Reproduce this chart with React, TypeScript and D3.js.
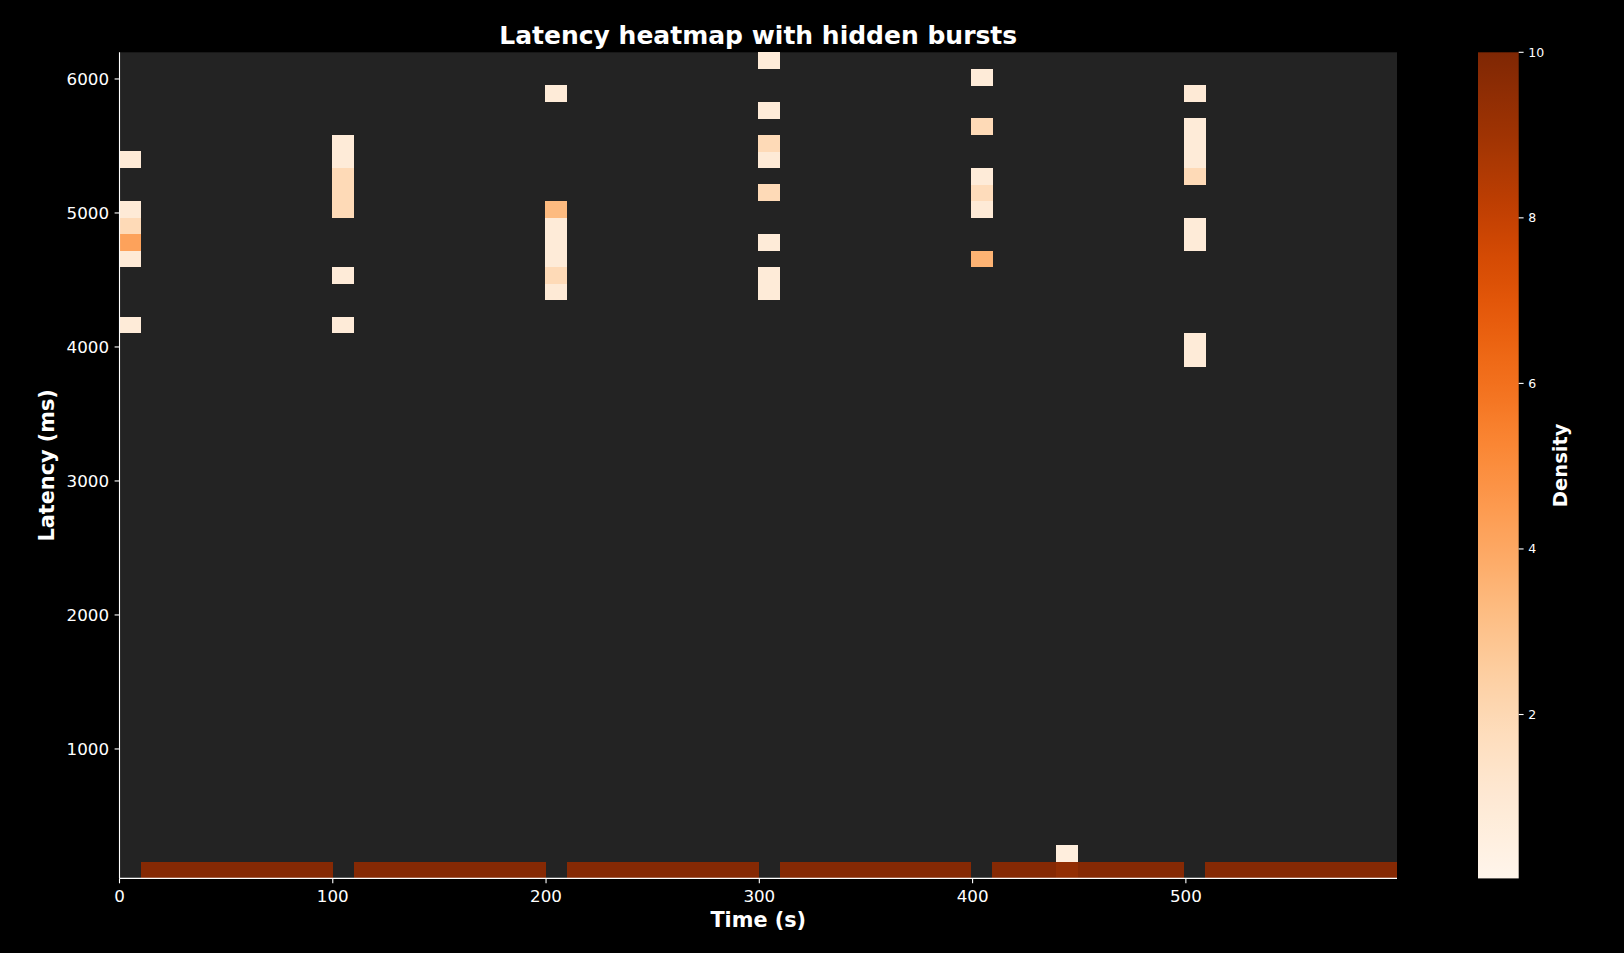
import React from "react";
import * as d3 from "d3";

// ---- data ----
const timeDomain = [0, 599];
const latencyDomain = [34, 6199];
const nTimeBins = 60;
const nLatencyBins = 50;

// bottom latency row density per 10 s time bin (0 = empty)
const baselineDensity = [
  0, 9.8, 9.8, 9.8, 9.8, 9.8, 9.8, 9.8, 9.8, 9.8,
  0, 9.8, 9.8, 9.8, 9.8, 9.8, 9.8, 9.8, 9.8, 9.8,
  0, 9.8, 9.8, 9.8, 9.8, 9.8, 9.8, 9.8, 9.8, 9.8,
  0, 9.8, 9.8, 9.8, 9.8, 9.8, 9.8, 9.8, 9.8, 9.8,
  0, 9.8, 9.8, 9.8, 9.4, 9.8, 9.8, 9.8, 9.8, 9.8,
  0, 9.8, 9.8, 9.8, 9.8, 9.8, 9.8, 9.8, 9.8, 9.8,
];

// burst columns (time bin index), their latency rows and densities
const burstBins = [0, 10, 20, 30, 40, 50, 44];
const burstRows = [
  [33, 37, 38, 39, 40, 43],
  [33, 36, 40, 41, 42, 43, 44],
  [35, 36, 37, 38, 39, 40, 47],
  [35, 36, 38, 41, 43, 44, 46, 49],
  [37, 40, 41, 42, 45, 48],
  [31, 32, 38, 39, 42, 43, 44, 45, 47],
  [1],
];
const burstDensity = [
  [0.8, 0.9, 4.2, 1.9, 0.9, 0.9],
  [0.8, 0.8, 1.9, 1.9, 1.9, 0.8, 0.8],
  [0.9, 1.9, 0.8, 0.8, 0.8, 3.3, 0.8],
  [0.8, 0.8, 0.8, 1.9, 0.9, 1.9, 0.8, 0.8],
  [3.6, 0.9, 1.8, 0.8, 1.9, 0.8],
  [0.8, 0.8, 0.8, 0.8, 1.9, 0.8, 0.8, 0.8, 0.9],
  [0.6],
];

const xTicks = [0, 100, 200, 300, 400, 500];
const yTicks = [1000, 2000, 3000, 4000, 5000, 6000];
const cbTicks = [2, 4, 6, 8, 10];
const colorDomain = [0.02, 10];

// ---- layout ----
const W = 1624;
const H = 953;
const plot = { left: 119.5, right: 1397, top: 52.3, bottom: 878.4 };
const cb = { left: 1478, right: 1518.7, top: 52.3, bottom: 878.4 };
const FONT = "'DejaVu Sans', sans-serif";

export default function App() {
  const x = d3.scaleLinear().domain(timeDomain).range([plot.left, plot.right]);
  const y = d3.scaleLinear().domain(latencyDomain).range([plot.bottom, plot.top]);
  const color = d3.scaleSequential(d3.interpolateOranges).domain(colorDomain).clamp(true);
  const cbY = d3.scaleLinear().domain(colorDomain).range([cb.bottom, cb.top]);

  const tStep = (timeDomain[1] - timeDomain[0]) / nTimeBins;
  const lStep = (latencyDomain[1] - latencyDomain[0]) / nLatencyBins;

  type Cell = { col: number; row: number; v: number };
  const cells: Cell[] = [];
  baselineDensity.forEach((v, col) => {
    if (v > 0) cells.push({ col, row: 0, v });
  });
  burstBins.forEach((col, k) => {
    burstRows[k].forEach((row, m) => cells.push({ col, row, v: burstDensity[k][m] }));
  });

  const cellRect = (c: Cell) => {
    const x0 = x(timeDomain[0] + c.col * tStep);
    const x1 = x(timeDomain[0] + (c.col + 1) * tStep);
    const y0 = y(latencyDomain[0] + (c.row + 1) * lStep);
    const y1 = y(latencyDomain[0] + c.row * lStep);
    return { x: x0, y: y0, w: x1 - x0, h: y1 - y0 };
  };

  const gradStops = d3.range(0, 41).map((i) => {
    const t = i / 40;
    const v = colorDomain[0] + t * (colorDomain[1] - colorDomain[0]);
    return { offset: `${t * 100}%`, c: color(v) };
  });

  return (
    <svg width={W} height={H} style={{ display: "block", position: "absolute", left: 0, top: 0 }} fontFamily={FONT}>
      <rect x={0} y={0} width={W} height={H} fill="#000" />
      <defs>
        <linearGradient id="cbgrad" x1="0" y1="1" x2="0" y2="0">
          {gradStops.map((s, i) => (
            <stop key={i} offset={s.offset} stopColor={s.c} />
          ))}
        </linearGradient>
      </defs>

      {/* plot background */}
      <rect x={plot.left} y={plot.top} width={plot.right - plot.left} height={plot.bottom - plot.top} fill="#232323" />

      {/* cells */}
      {cells.map((c, i) => {
        const r = cellRect(c);
        return <rect key={i} x={r.x} y={r.y} width={r.w + 0.3} height={r.h + 0.3} fill={color(c.v)} shapeRendering="crispEdges" />;
      })}

      {/* spines */}
      <line x1={plot.left} x2={plot.left} y1={plot.top} y2={plot.bottom} stroke="#fff" strokeWidth={1.1} />
      <line x1={plot.left} x2={plot.right} y1={plot.bottom} y2={plot.bottom} stroke="#fff" strokeWidth={1.1} />

      {/* x ticks */}
      {xTicks.map((t) => (
        <g key={t}>
          <line x1={x(t)} x2={x(t)} y1={plot.bottom} y2={plot.bottom + 4.9} stroke="#fff" strokeWidth={1.1} />
          <text x={x(t)} y={902} fill="#fff" fontSize={16.7} textAnchor="middle">{t}</text>
        </g>
      ))}
      {/* y ticks */}
      {yTicks.map((t) => (
        <g key={t}>
          <line x1={plot.left - 4.9} x2={plot.left} y1={y(t)} y2={y(t)} stroke="#fff" strokeWidth={1.1} />
          <text x={109} y={y(t)} dy="0.36em" fill="#fff" fontSize={16.7} textAnchor="end">{t}</text>
        </g>
      ))}

      {/* axis labels */}
      <text x={(plot.left + plot.right) / 2} y={927} fill="#fff" fontSize={20.8} fontWeight="bold" textAnchor="middle">Time (s)</text>
      <text transform={`translate(54,${(plot.top + plot.bottom) / 2}) rotate(-90)`} fill="#fff" fontSize={20.8} fontWeight="bold" textAnchor="middle">Latency (ms)</text>

      {/* title */}
      <text x={(plot.left + plot.right) / 2} y={43.5} fill="#fff" fontSize={25} fontWeight="bold" textAnchor="middle">Latency heatmap with hidden bursts</text>

      {/* colorbar */}
      <rect x={cb.left} y={cb.top} width={cb.right - cb.left} height={cb.bottom - cb.top} fill="url(#cbgrad)" />
      {cbTicks.map((t) => (
        <g key={t}>
          <line x1={cb.right} x2={cb.right + 4.9} y1={cbY(t)} y2={cbY(t)} stroke="#fff" strokeWidth={1.1} />
          <text x={cb.right + 9.5} y={cbY(t)} dy="0.36em" fill="#fff" fontSize={12.5}>{t}</text>
        </g>
      ))}
      <text transform={`translate(1567,${(cb.top + cb.bottom) / 2}) rotate(-90)`} fill="#fff" fontSize={19.5} fontWeight="bold" textAnchor="middle">Density</text>
    </svg>
  );
}
